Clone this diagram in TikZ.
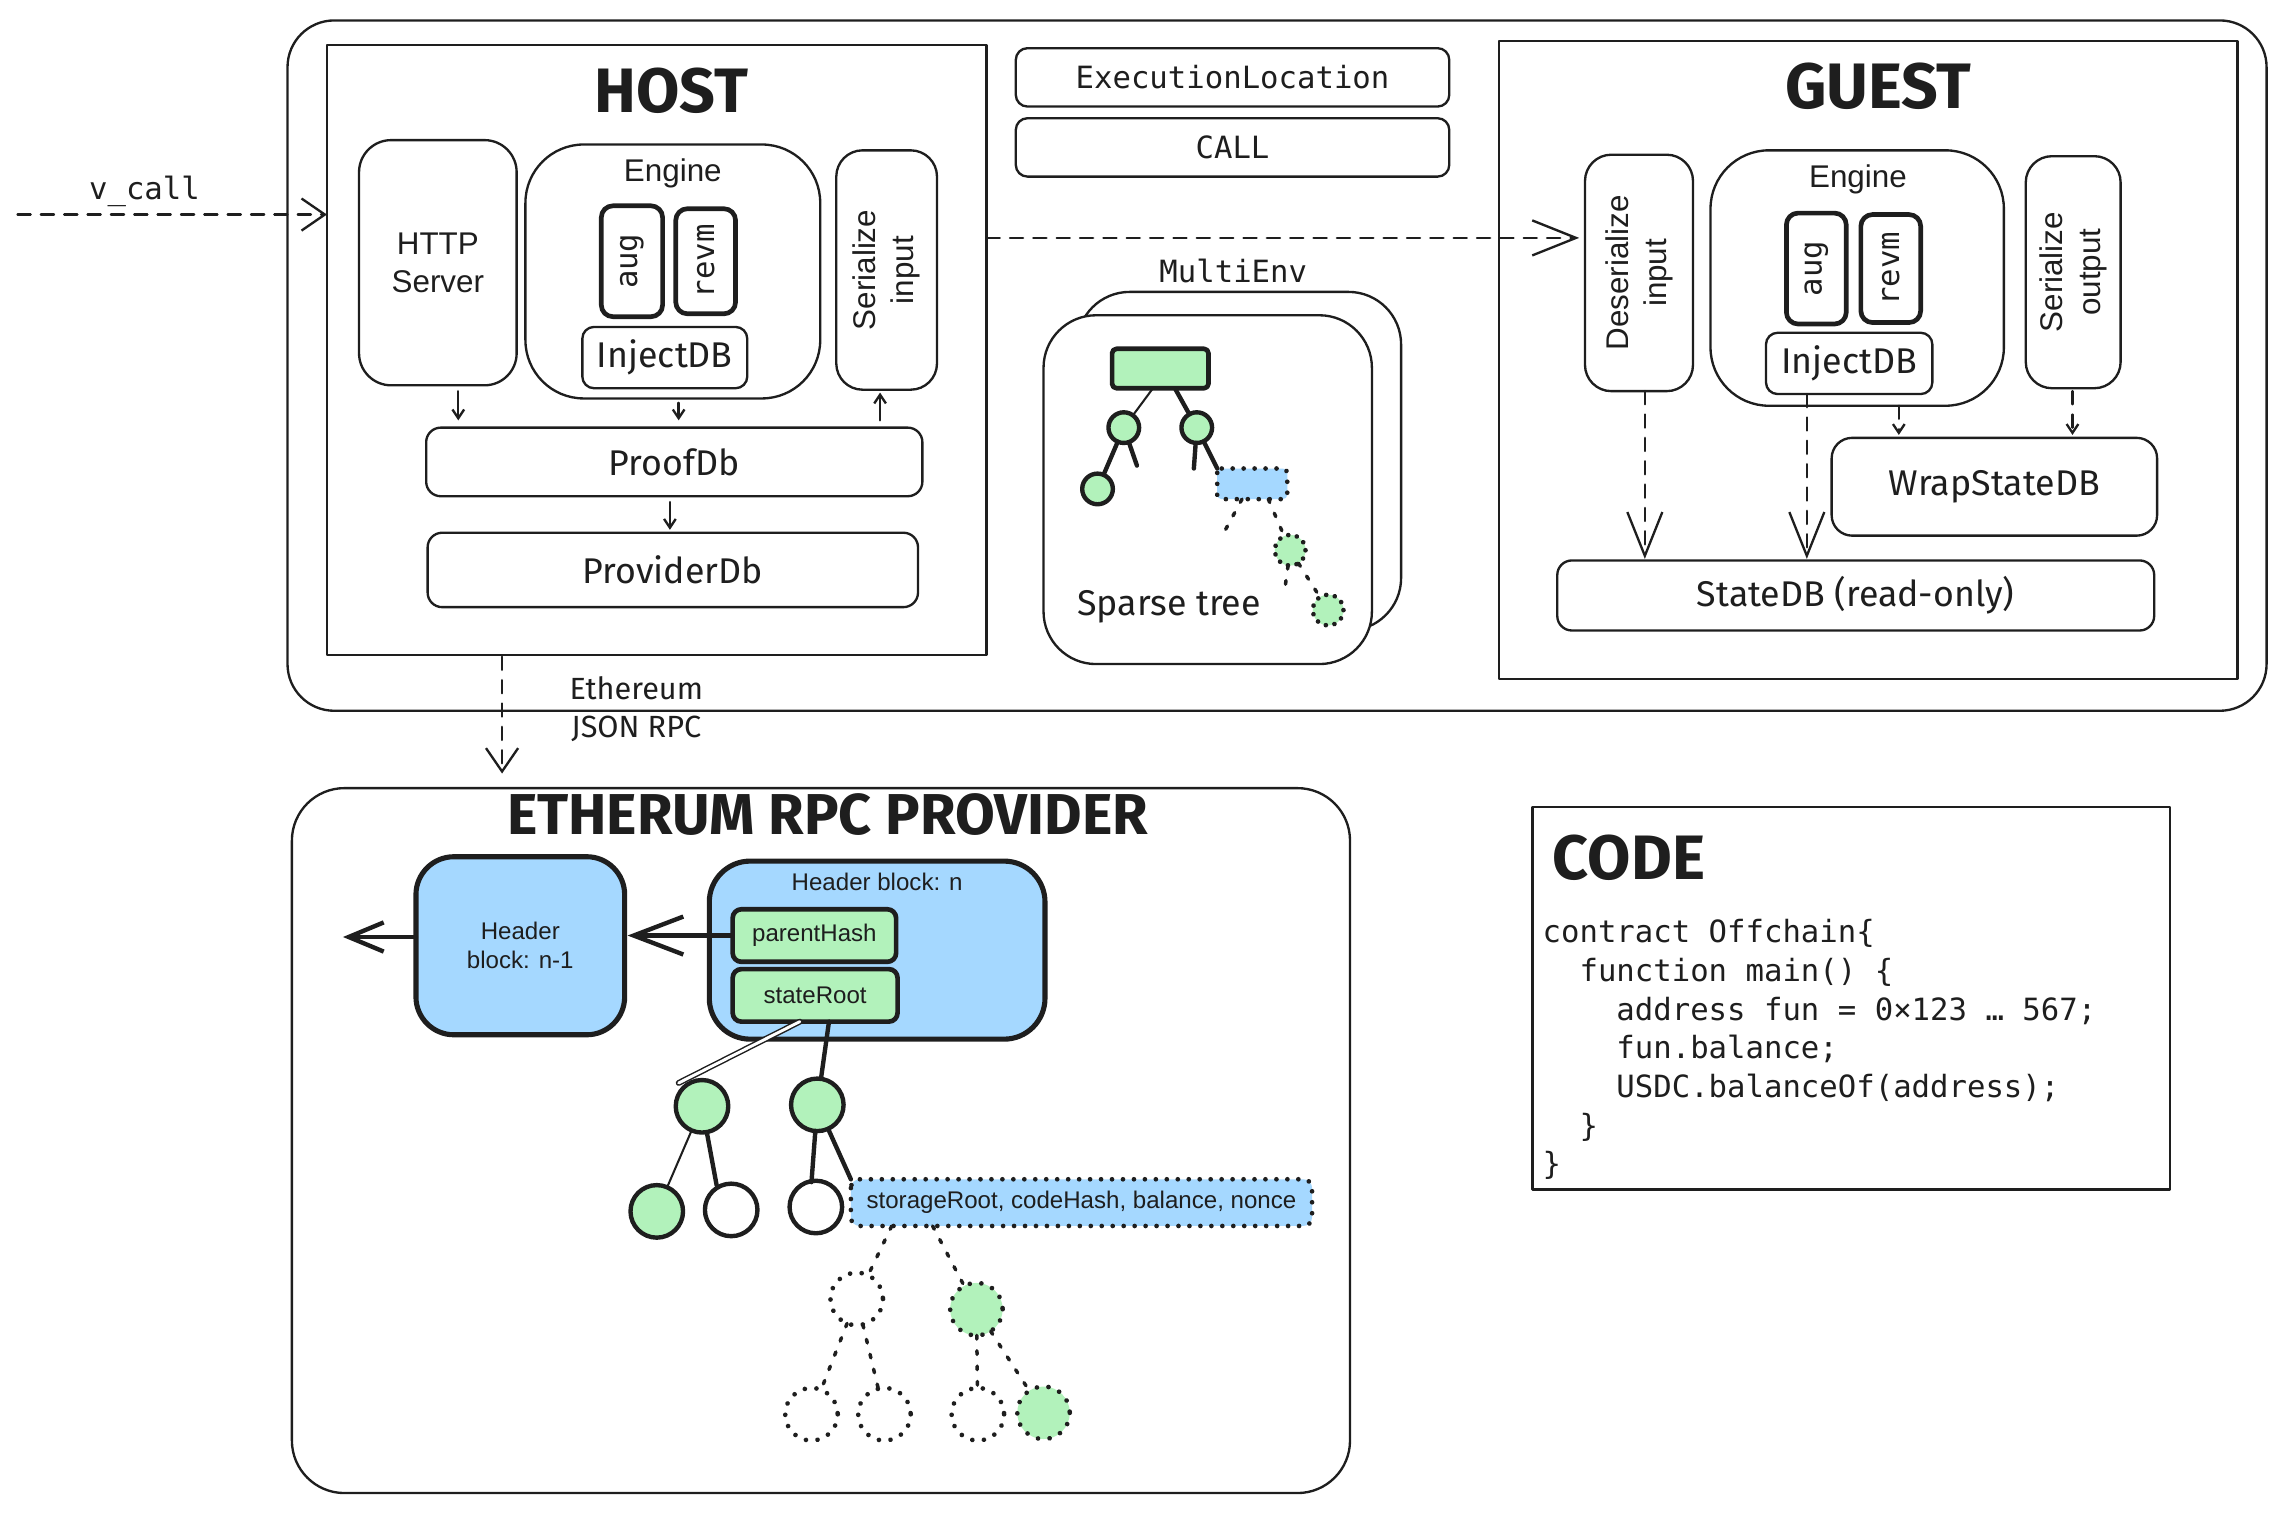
\documentclass[tikz,border=0pt]{standalone}
\usepackage{fontspec}
\setmainfont{Liberation Sans}
\newfontfamily\helv{Liberation Sans}
\newfontfamily\mono{DejaVu Sans Mono}
\newfontfamily\hand{Fira Sans}
\usetikzlibrary{arrows.meta,calc}
\definecolor{ink}{HTML}{1E1E1E}
\definecolor{lgreen}{HTML}{B2F2BB}
\definecolor{lblue}{HTML}{A5D8FF}
\newcommand\fsz[2]{\fontsize{#1}{#2}\selectfont}
\begin{document}
\begin{tikzpicture}[x=1pt,y=-1pt,line join=round,line cap=round,
  every node/.style={inner sep=0pt,outer sep=0pt,text=ink},
  box/.style={draw=ink,line width=1.6pt,rounded corners=#1,align=center},
  box/.default=10pt,
  sharpbox/.style={draw=ink,line width=1.6pt},
  thickbox/.style={draw=ink,line width=3.2pt,rounded corners=#1,align=center},
  thickbox/.default=8pt,
  gcirc/.style={circle,draw=ink,line width=3pt,fill=lgreen,minimum size=#1},
  wcirc/.style={circle,draw=ink,line width=3pt,fill=white,minimum size=#1},
  dotbord/.style={draw=ink,line width=3.2pt,dash pattern=on 0.01pt off 7.5pt},
  dotline/.style={draw=ink,line width=2.4pt,dash pattern=on 2.5pt off 8pt},
  conn/.style={draw=ink,line width=1.6pt},
  thin/.style={draw=ink,line width=1.4pt},
  thick/.style={draw=ink,line width=3pt},
  dashA/.style={dash pattern=on 9pt off 7pt},
  arrS/.style={-{Straight Barb[length=6pt,width=8pt]}},
  arrM/.style={-{Straight Barb[length=16pt,width=22pt]}},
  arrL/.style={-{Straight Barb[length=30pt,width=24pt]}},
  handtxt/.style={font=\hand\fsz{24.5}{28}},
  helvtxt/.style={font=\helv\fsz{21.5}{26}},
  monotxt/.style={font=\mono\fsz{21}{26}},
  titletxt/.style={font=\hand\bfseries\fsz{#1}{#1}},
]
\useasboundingbox (0,0) rectangle (1567,1037);

% ---------- outer container ----------
\node[box=32pt,minimum width=1356,minimum height=473] (outer) at (875,250.5) {};

% ---------- HOST ----------
\node[sharpbox,minimum width=452,minimum height=418] (host) at (450,240) {};
\node[titletxt=43] (hosttitle) at (460,62) {HOST};
\node[box=22pt,minimum width=108,minimum height=168,helvtxt] (http) at (300,180) {HTTP\\Server};
\node[box=40pt,minimum width=202,minimum height=174] (heng) at (461,186) {};
\node[helvtxt] (hengl) at (461,119) {Engine};
\node[thickbox,rotate=90,minimum width=76,minimum height=42,font=\mono\fsz{21}{24}] (haug) at (433,179) {aug};
\node[thickbox,rotate=90,minimum width=72,minimum height=41,font=\mono\fsz{21}{24}] (hrevm) at (483.5,179) {revm};
\node[box=8pt,minimum width=113,minimum height=42,handtxt] (hinj) at (455.5,245) {InjectDB};
\node[box=18pt,rotate=90,minimum width=164,minimum height=69,helvtxt] (hser) at (607.5,185) {Serialize\\input};
\node[box=10pt,minimum width=340,minimum height=47,handtxt] (proof) at (462,316.5) {ProofDb};
\node[box=10pt,minimum width=336,minimum height=51,handtxt] (provider) at (461,390.5) {ProviderDb};

\draw[conn,arrS,shorten <=4pt,shorten >=5pt] (http.south -| 314,0) -- (proof.north -| 314,0);
\draw[conn,arrS,shorten <=3pt,shorten >=5pt] (heng.south -| 465,0) -- (proof.north -| 465,0);
\draw[conn,arrS,shorten <=5pt,shorten >=2pt] (proof.north -| 603,0) -- (hser.west -| 603,0);
\draw[conn,arrS,shorten <=4pt,shorten >=2pt] (proof.south -| 459,0) -- (provider.north -| 459,0);

% ---------- middle ----------
\node[box=8pt,minimum width=297,minimum height=40,monotxt] (exec) at (844.5,53) {ExecutionLocation};
\node[box=8pt,minimum width=297,minimum height=40,monotxt] (call) at (844.5,101) {CALL};
\node[monotxt] (multil) at (845,186) {MultiEnv};
\node[box=36pt,minimum width=222,minimum height=232,fill=white] (mback) at (849,316) {};
\node[box=36pt,minimum width=225,minimum height=239,fill=white] (mfront) at (827.5,335.5) {};

\node[thickbox=3pt,fill=lgreen,minimum width=66,minimum height=27] (troot) at (795,252.5) {};
\node[gcirc=21] (tc1) at (770,293) {};
\node[gcirc=21] (tc2) at (820,293) {};
\node[gcirc=21] (tc3) at (752,335) {};
\node[fill=lblue,minimum width=48,minimum height=21,rounded corners=3pt] (tblue) at (858,331.5) {};
\draw[dotbord,rounded corners=3pt] (tblue.north west) rectangle (tblue.south east);
\node[circle,fill=lgreen,minimum size=21] (td1) at (884,377) {};
\draw[dotbord,dash pattern=on 0.01pt off 6pt] (td1) circle[radius=10.5];
\node[circle,fill=lgreen,minimum size=21] (td2) at (910,418) {};
\draw[dotbord,dash pattern=on 0.01pt off 6pt] (td2) circle[radius=10.5];
\coordinate (ts1) at (779,319);
\coordinate (ts2) at (818,321);
\coordinate (ts3) at (838,366);
\coordinate (ts4) at (880,406);
\draw[thin] (troot.south -| 790,0) -- (tc1);
\draw[thick] (troot.south -| 805,0) -- (tc2);
\draw[thick] (tc1) -- (tc3);
\draw[thick] (tc1) -- (ts1);
\draw[thick] (tc2) -- (ts2);
\draw[thick] (tc2) -- (tblue.north west);
\draw[dotline] (tblue.south -| 851,0) -- (ts3);
\draw[dotline] (tblue.south -| 869,0) -- (td1);
\draw[dotline] (td1) -- (ts4);
\draw[dotline] (td1) -- (td2);
\node[handtxt] (sparse) at (801,416) {Sparse tree};

% ---------- GUEST ----------
\node[sharpbox,minimum width=506,minimum height=437] (guest) at (1280,246.5) {};
\node[titletxt=44] (guesttitle) at (1287,59) {GUEST};
\node[box=18pt,rotate=90,minimum width=162,minimum height=74,helvtxt] (gdes) at (1123,187) {Deserialize\\input};
\node[box=40pt,minimum width=201,minimum height=175] (geng) at (1272.5,190.5) {};
\node[helvtxt] (gengl) at (1273,123) {Engine};
\node[thickbox,rotate=90,minimum width=76,minimum height=41,font=\mono\fsz{21}{24}] (gaug) at (1244.5,184) {aug};
\node[thickbox,rotate=90,minimum width=74,minimum height=41,font=\mono\fsz{21}{24}] (grevm) at (1295.5,184) {revm};
\node[box=8pt,minimum width=114,minimum height=42,handtxt] (ginj) at (1267,249) {InjectDB};
\node[box=18pt,rotate=90,minimum width=159,minimum height=65,helvtxt] (gser) at (1420.5,186.5) {Serialize\\output};
\node[box=14pt,minimum width=223,minimum height=67,handtxt] (wrap) at (1366.5,333.5) {WrapStateDB};
\node[box=10pt,minimum width=409,minimum height=48,handtxt] (state) at (1271.5,408) {StateDB (read-only)};

\draw[conn,dashA,arrL,shorten >=1pt] (gdes.west -| 1127,0) -- (state.north -| 1127,0);
\draw[conn,dashA,arrL,shorten >=1pt] (ginj.south -| 1238,0) -- (state.north -| 1238,0);
\draw[conn,dashA,arrS,shorten >=2pt] (geng.south -| 1301,0) -- (wrap.north -| 1301,0);
\draw[conn,dashA,arrS,shorten <=2pt,shorten >=2pt] (gser.west -| 1420,0) -- (wrap.north -| 1420,0);

% ---------- cross connectors ----------
\coordinate (vstart) at (12,147);
\draw[conn,dashA,arrM] (vstart) -- (host.west |- 0,147);
\node[monotxt] (vcall) at (99,131) {v\_call};
\draw[conn,dashA,arrL,shorten >=4pt] (host.east |- 0,163) -- (gdes.north |- 0,163);

% ---------- Ethereum RPC provider ----------
\node[box=36pt,minimum width=725,minimum height=483] (eth) at (562.5,781.5) {};
\draw[conn,dashA,arrM,shorten <=1pt,shorten >=10pt] (host.south -| 344,0) -- (eth.north -| 344,0);
\node[align=center,font=\hand\fsz{21}{26}] (ethrpc) at (436,486) {Ethereum\\JSON RPC};
\node[titletxt=39.5] (ethtitle) at (567,558) {ETHERUM RPC PROVIDER};

\node[thickbox=26pt,line width=3.5pt,fill=lblue,minimum width=143,minimum height=122,font=\helv\fsz{16.5}{20}] (hb1) at (356.5,648) {Header\\block: n-1};
\node[thickbox=28pt,line width=3.5pt,fill=lblue,minimum width=230,minimum height=122] (hbn) at (601,651) {};
\node[font=\helv\fsz{16.5}{20}] (hbnl) at (601,604) {Header block: n};
\node[thickbox=6pt,fill=lgreen,minimum width=112,minimum height=36,font=\helv\fsz{16.5}{20}] (parent) at (558,641) {parentHash};
\node[thickbox=6pt,fill=lgreen,minimum width=113,minimum height=36,font=\helv\fsz{16.5}{20}] (sroot) at (558.5,682) {stateRoot};
\draw[thick,-{Straight Barb[length=34pt,width=26pt]},shorten >=2pt] (parent.west) -- (hb1.east |- parent.west);
\coordinate (leftend) at (235,642);
\draw[thick,-{Straight Barb[length=24pt,width=20pt]}] (hb1.west |- 0,642) -- (leftend);

\node[gcirc=36] (e1) at (481,758) {};
\node[gcirc=36] (e2) at (560,757) {};
\node[gcirc=36] (e3) at (450,830) {};
\node[wcirc=36] (e4) at (501,829) {};
\node[wcirc=36] (e5) at (559,827) {};
\coordinate (es1) at (491,812);
\coordinate (es2) at (556,810);
\coordinate (ed1) at (465,742);
\draw[draw=ink,line width=1pt,double=white,double distance=2pt] (sroot.south -| 548,0) -- (ed1);
\draw[thick] (sroot.south -| 568,0) -- (e2);
\draw[thin] (e1) -- (e3);
\draw[thick] (e1) -- (es1);
\draw[thick] (e2) -- (es2);

\node[fill=lblue,minimum width=316,minimum height=32,rounded corners=6pt,font=\helv\fsz{16.5}{20}] (storage) at (741,824) {storageRoot, codeHash, balance, nonce};
\draw[dotbord,rounded corners=6pt] (storage.north west) rectangle (storage.south east);
\draw[thick] (e2) -- (storage.north west);

\node[circle,minimum size=36] (f1) at (587,890) {};
\node[circle,fill=lgreen,minimum size=36] (f2) at (669,897) {};
\node[circle,minimum size=36] (g1) at (556,969) {};
\node[circle,minimum size=36] (g2) at (606,969) {};
\node[circle,minimum size=36] (g3) at (670,969) {};
\node[circle,fill=lgreen,minimum size=36] (g4) at (715,968) {};
\foreach \n in {f1,f2,g1,g2,g3,g4}
  \draw[dotbord,dash pattern=on 0.01pt off 8pt] (\n) circle[radius=18];
\draw[dotline] (storage.south -| 611,0) -- (f1);
\draw[dotline] (storage.south -| 639,0) -- (f2);
\draw[dotline] (f1) -- (g1);
\draw[dotline] (f1) -- (g2);
\draw[dotline] (f2) -- (g3);
\draw[dotline] (f2) -- (g4);

% ---------- CODE ----------
\node[sharpbox,minimum width=437,minimum height=262] (code) at (1268.5,684) {};
\node[titletxt=43,anchor=west] (codetitle) at (1064,588) {CODE};
\node[font=\mono\fsz{21}{26.5},align=left,anchor=north west] (codetext) at (1057,630) {%
contract Offchain\{\\
\phantom{xx}function main() \{\\
\phantom{xxxx}address fun = 0×123 … 567;\\
\phantom{xxxx}fun.balance;\\
\phantom{xxxx}USDC.balanceOf(address);\\
\phantom{xx}\}\\
\}};
\end{tikzpicture}
\end{document}
